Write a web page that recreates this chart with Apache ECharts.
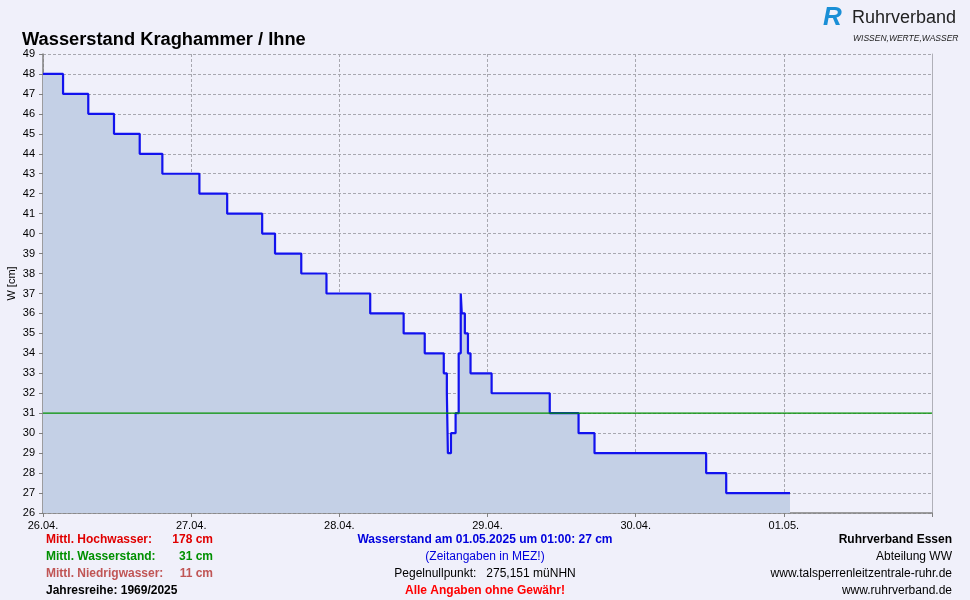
<!DOCTYPE html>
<html>
<head>
<meta charset="utf-8">
<script src="https://cdn.jsdelivr.net/npm/echarts@6/dist/echarts.min.js"></script>
<style>
html,body{margin:0;padding:0;background:#f0f0fa;}
#chart{width:970px;height:600px;}
</style>
</head>
<body>
<div id="chart"></div>
<script>
// ---- data ----
const times = [
  '2025-04-26 00:00','2025-04-26 03:15','2025-04-26 07:20','2025-04-26 11:30','2025-04-26 15:40',
  '2025-04-26 19:20','2025-04-27 01:20','2025-04-27 05:50','2025-04-27 11:30','2025-04-27 13:35',
  '2025-04-27 17:50','2025-04-27 21:55','2025-04-28 05:00','2025-04-28 10:25','2025-04-28 13:50',
  '2025-04-28 16:55','2025-04-28 17:25','2025-04-28 17:35','2025-04-28 18:05','2025-04-28 18:50',
  '2025-04-28 19:20','2025-04-28 19:40','2025-04-28 19:50','2025-04-28 20:20','2025-04-28 20:50',
  '2025-04-28 21:15','2025-04-29 00:40','2025-04-29 10:05','2025-04-29 14:45','2025-04-29 17:20',
  '2025-04-30 11:25','2025-04-30 14:40','2025-05-01 01:00'
];
const levels = [
  48,47,46,45,44,
  43,42,41,40,39,
  38,37,36,35,34,
  33,32,29,30,31,
  34,37,36,35,34,
  33,32,31,30,29,
  28,27,27
];
const meanLevel = 31;
const axisStart = '2025-04-26 00:00';
const axisEnd = '2025-05-02 00:00';
const yMin = 26, yMax = 49;

const leftLabels = [
  {text:'Mittl. Hochwasser:', value:'178 cm', color:'#e00000'},
  {text:'Mittl. Wasserstand:', value:'31 cm', color:'#009000'},
  {text:'Mittl. Niedrigwasser:', value:'11 cm', color:'#c05555'},
  {text:'Jahresreihe: 1969/2025', value:'', color:'#000000'}
];
const centerLines = [
  {text:'Wasserstand am 01.05.2025 um 01:00: 27 cm', color:'#0000dd', bold:true},
  {text:'(Zeitangaben in MEZ!)', color:'#0000dd', bold:false},
  {text:'Pegelnullpunkt:   275,151 müNHN', color:'#000000', bold:false},
  {text:'Alle Angaben ohne Gewähr!', color:'#ff0000', bold:true}
];
const rightLines = [
  {text:'Ruhrverband Essen', bold:true},
  {text:'Abteilung WW', bold:false},
  {text:'www.talsperrenleitzentrale-ruhr.de', bold:false},
  {text:'www.ruhrverband.de', bold:false}
];

// ---- chart ----
const FONT = '"Liberation Sans", Arial, sans-serif';
const chart = echarts.init(document.getElementById('chart'), null, {renderer:'canvas'});
const seriesData = times.map((t,i)=>[t, levels[i]]);
const meanData = [[axisStart, meanLevel],[axisEnd, meanLevel]];
const pad = n => (n<10?'0':'')+n;
const lineYs = [540, 557, 574, 591];
const endMs = new Date(axisEnd.replace(' ','T')).getTime();

const graphics = [];
graphics.push({type:'text', left:22, top:31, style:{text:'Wasserstand Kraghammer / Ihne', font:'bold 18.3px '+FONT, fill:'#000'}});
graphics.push({type:'text', left:823, top:5, style:{text:'R', font:'bold italic 26px '+FONT, fill:'#1a8fd6'}});
graphics.push({type:'text', left:852, top:9, style:{text:'Ruhrverband', font:'18px '+FONT, fill:'#222'}});
graphics.push({type:'text', left:853, top:34, style:{text:'WISSEN,WERTE,WASSER', font:'italic 8.5px '+FONT, fill:'#222'}});
leftLabels.forEach((l,i)=>{
  graphics.push({type:'text', x:46, y:lineYs[i], style:{text:l.text, font:'bold 12px '+FONT, fill:l.color, verticalAlign:'middle'}});
  if (l.value) graphics.push({type:'text', x:213, y:lineYs[i], style:{text:l.value, font:'bold 12px '+FONT, fill:l.color, align:'right', verticalAlign:'middle'}});
});
centerLines.forEach((l,i)=>{
  graphics.push({type:'text', x:485, y:lineYs[i], style:{text:l.text, font:(l.bold?'bold ':'')+'12px '+FONT, fill:l.color, align:'center', verticalAlign:'middle'}});
});
rightLines.forEach((l,i)=>{
  graphics.push({type:'text', x:952, y:lineYs[i], style:{text:l.text, font:(l.bold?'bold ':'')+'12px '+FONT, fill:'#000', align:'right', verticalAlign:'middle'}});
});

const option = {
  backgroundColor:'#f0f0fa',
  animation:false,
  grid:{left:43, right:38, top:54, bottom:87, show:false, containLabel:false, outerBoundsMode:'none'},
  xAxis:[{
    type:'time', min:axisStart, max:axisEnd,
    minInterval:86400000, maxInterval:86400000,
    axisLine:{show:true, lineStyle:{color:'#808080', width:1.5}},
    axisTick:{show:true, length:4, lineStyle:{color:'#808080'}},
    axisLabel:{color:'#000', fontFamily:FONT, fontSize:11, margin:7, hideOverlap:false,
      formatter:v=>{ if (v>=endMs) return ''; const d=new Date(v);return pad(d.getDate())+'.'+pad(d.getMonth()+1)+'.';}},
    splitLine:{show:true, lineStyle:{color:'#a8a8b0', type:[3,2], width:1}}
  }],
  yAxis:[{
    type:'value', min:yMin, max:yMax, interval:1,
    name:'W [cm]', nameLocation:'middle', nameGap:26, nameRotate:90, nameMoveOverlap:false,
    nameTextStyle:{color:'#000', fontFamily:FONT, fontSize:11},
    axisLine:{show:true, lineStyle:{color:'#808080', width:1.5}},
    axisTick:{show:true, length:4, lineStyle:{color:'#808080'}},
    axisLabel:{color:'#000', fontFamily:FONT, fontSize:11, margin:8},
    splitLine:{show:true, lineStyle:{color:'#a8a8b0', type:[3,2], width:1}}
  },{
    type:'value', min:yMin, max:yMax, interval:1, position:'right',
    axisLine:{show:true, lineStyle:{color:'#b0b0b8', width:1}},
    axisTick:{show:false}, axisLabel:{show:false}, splitLine:{show:false}
  }],
  series:[{
    type:'line', step:'end', data:seriesData, showSymbol:false, symbol:'none',
    lineStyle:{color:'#1212ee', width:2.2},
    areaStyle:{color:'#c4d0e6', opacity:1, origin:'start'},
    z:3
  },{
    type:'line', data:meanData, showSymbol:false, symbol:'none',
    lineStyle:{color:'#009000', width:1.2}, z:4, silent:true
  }],
  graphic:graphics
};
chart.setOption(option);
</script>
</body>
</html>
